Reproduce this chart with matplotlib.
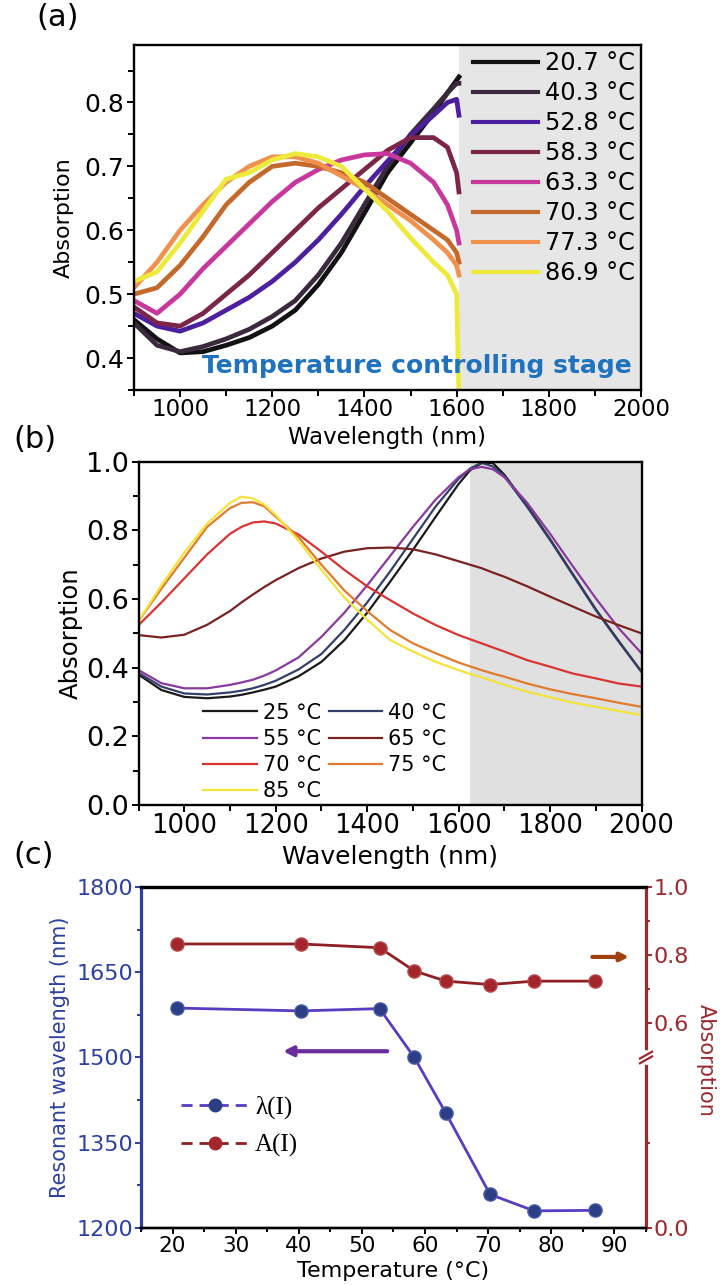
import matplotlib
matplotlib.use("Agg")
import matplotlib.pyplot as plt
from matplotlib.lines import Line2D
from matplotlib.ticker import MultipleLocator, FixedLocator

plt.rcParams['font.family'] = ['DejaVu Sans']

# (a) measured absorption spectra, one list per stage temperature
WL_A = [900, 950, 1000, 1050, 1100, 1150, 1200, 1250, 1300, 1350,
        1400, 1450, 1500, 1550, 1580, 1600, 1605]
abs_207 = [0.46, 0.43, 0.408, 0.41, 0.42, 0.432, 0.45, 0.475, 0.515, 0.565,
           0.627, 0.69, 0.737, 0.784, 0.815, 0.835, 0.84]
abs_403 = [0.455, 0.42, 0.41, 0.418, 0.43, 0.445, 0.465, 0.49, 0.53, 0.58,
           0.64, 0.70, 0.75, 0.79, 0.815, 0.83, 0.83]
abs_528 = [0.47, 0.45, 0.442, 0.455, 0.475, 0.495, 0.52, 0.55, 0.585, 0.625,
           0.668, 0.708, 0.748, 0.78, 0.80, 0.805, 0.78]
abs_583 = [0.48, 0.455, 0.45, 0.47, 0.50, 0.53, 0.565, 0.60, 0.635, 0.665,
           0.695, 0.725, 0.745, 0.745, 0.73, 0.69, 0.66]
abs_633 = [0.49, 0.47, 0.50, 0.54, 0.575, 0.61, 0.645, 0.675, 0.695, 0.71,
           0.718, 0.72, 0.705, 0.675, 0.64, 0.60, 0.58]
abs_703 = [0.50, 0.51, 0.545, 0.59, 0.64, 0.675, 0.70, 0.705, 0.70, 0.69,
           0.675, 0.65, 0.625, 0.60, 0.585, 0.565, 0.55]
abs_773 = [0.51, 0.55, 0.60, 0.64, 0.675, 0.70, 0.715, 0.715, 0.705, 0.685,
           0.665, 0.64, 0.615, 0.585, 0.565, 0.545, 0.53]
abs_869 = [0.52, 0.535, 0.58, 0.63, 0.68, 0.69, 0.71, 0.72, 0.715, 0.70,
           0.665, 0.63, 0.588, 0.55, 0.53, 0.50, 0.34]
LABELS_A = ["20.7 °C", "40.3 °C", "52.8 °C", "58.3 °C",
            "63.3 °C", "70.3 °C", "77.3 °C", "86.9 °C"]

# (b) simulated spectra
WL_B = [900, 950, 1000, 1050, 1100, 1125, 1150, 1175, 1200, 1250, 1300, 1350,
        1400, 1450, 1500, 1550, 1600, 1625, 1650, 1675, 1700, 1750, 1800,
        1850, 1900, 1950, 2000]
b_25 = [0.38, 0.335, 0.315, 0.311, 0.316, 0.321, 0.328, 0.336, 0.345, 0.375,
        0.417, 0.48, 0.56, 0.65, 0.743, 0.84, 0.935, 0.975, 0.996, 0.996,
        0.962, 0.872, 0.774, 0.672, 0.57, 0.478, 0.388]
b_40 = [0.385, 0.345, 0.325, 0.322, 0.328, 0.333, 0.34, 0.35, 0.362, 0.395,
        0.44, 0.51, 0.59, 0.68, 0.775, 0.87, 0.95, 0.98, 0.997, 0.986,
        0.958, 0.868, 0.772, 0.67, 0.568, 0.476, 0.388]
b_55 = [0.393, 0.355, 0.34, 0.34, 0.35, 0.357, 0.365, 0.377, 0.392, 0.43,
        0.49, 0.56, 0.64, 0.725, 0.81, 0.89, 0.955, 0.978, 0.985, 0.978,
        0.955, 0.88, 0.79, 0.695, 0.602, 0.515, 0.442]
b_65 = [0.495, 0.488, 0.496, 0.525, 0.565, 0.59, 0.613, 0.635, 0.655, 0.69,
        0.718, 0.738, 0.748, 0.75, 0.745, 0.73, 0.71, 0.70, 0.69, 0.677,
        0.665, 0.637, 0.607, 0.578, 0.549, 0.524, 0.50]
b_70 = [0.524, 0.59, 0.66, 0.73, 0.79, 0.81, 0.823, 0.826, 0.82, 0.788,
        0.738, 0.685, 0.637, 0.597, 0.558, 0.524, 0.495, 0.483, 0.471, 0.459,
        0.447, 0.422, 0.403, 0.383, 0.369, 0.354, 0.345]
b_75 = [0.536, 0.63, 0.72, 0.81, 0.865, 0.88, 0.882, 0.87, 0.84, 0.78,
        0.70, 0.625, 0.565, 0.51, 0.471, 0.442, 0.415, 0.404, 0.393, 0.383,
        0.374, 0.354, 0.337, 0.323, 0.311, 0.298, 0.286]
b_85 = [0.536, 0.64, 0.735, 0.82, 0.88, 0.898, 0.893, 0.875, 0.845, 0.77,
        0.685, 0.605, 0.54, 0.481, 0.447, 0.417, 0.393, 0.382, 0.372, 0.361,
        0.35, 0.33, 0.314, 0.298, 0.286, 0.274, 0.262]
LABELS_B = ["25 °C", "40 °C", "55 °C", "65 °C", "70 °C", "75 °C", "85 °C"]

# (c) resonance position and peak absorption vs temperature
temperatura = [20.7, 40.3, 52.8, 58.3, 63.3, 70.3, 77.3, 86.9]
lambda_res = [1587, 1582, 1586, 1500, 1402, 1259, 1230, 1231]
abs_res = [0.833, 0.833, 0.822, 0.754, 0.724, 0.714, 0.724, 0.724]

COLORES_A = ['#121212', '#3b2a3e', '#4b1f9e', '#7b2548',
             '#c8389c', '#c4692c', '#f0924e', '#eeea3c']
COLORES_B = ['#1a1a1a', '#33406a', '#8a3a9e', '#7a2222',
             '#d83434', '#e07b30', '#f2e43a']

AZUL = '#2b40a0'
ROJO = '#9b2a2e'


def estilo_ejes(ax, size, largo=5, pad=2):
    ax.tick_params(which='both', direction='out', width=1.4, labelsize=size, pad=pad)
    ax.tick_params(which='major', length=largo)
    ax.tick_params(which='minor', length=largo - 1)
    for s in ax.spines.values():
        s.set_linewidth(1.7)


def poner_etiquetas(ax, xlabel, ylabel, xsize, ysize, xpos, ypos, color='black'):
    ax.set_xlabel(xlabel, fontsize=xsize, va='center')
    ax.set_ylabel(ylabel, fontsize=ysize, va='center', color=color)
    ax.xaxis.set_label_coords(*xpos)
    ax.yaxis.set_label_coords(*ypos)


def panel_a(fig):
    ax = fig.add_axes([0.1853, 0.6965, 0.7013, 0.2685])
    ax.axvspan(1605, 2000, color='#e6e6e6', zorder=0, lw=0)
    series = [abs_207, abs_403, abs_528, abs_583, abs_633, abs_703, abs_773, abs_869]
    for vals, lab, col in zip(series, LABELS_A, COLORES_A):
        ax.plot(WL_A, vals, color=col, lw=3.4, label=lab, solid_joinstyle='round')
    ax.set_xlim(900, 2000)
    ax.set_ylim(0.35, 0.89)
    ax.xaxis.set_major_locator(MultipleLocator(200))
    ax.xaxis.set_minor_locator(MultipleLocator(100))
    ax.yaxis.set_major_locator(MultipleLocator(0.1))
    ax.yaxis.set_minor_locator(MultipleLocator(0.05))
    estilo_ejes(ax, 18)
    ax.tick_params(axis='x', labelsize=16.5, pad=1)
    poner_etiquetas(ax, "Wavelength (nm)", "Absorption", 16.5, 16,
                    (0.5, -0.137), (-0.138, 0.5))
    leg = ax.legend(loc='upper right', bbox_to_anchor=(1.0, 1.0), frameon=False,
                    fontsize=17.3, handlelength=2.7, handletextpad=0.3,
                    labelspacing=0.25, borderaxespad=0.1, borderpad=0.15)
    for line in leg.get_lines():
        line.set_linewidth(3)
    ax.text(0.982, 0.07, "Temperature controlling stage", transform=ax.transAxes,
            ha='right', va='center', fontsize=18, fontweight='bold',
            color='#1f72bd')


def panel_b(fig):
    ax = fig.add_axes([0.1916, 0.3735, 0.6957, 0.2672])
    ax.axvspan(1625, 2000, color='#e0e0e0', zorder=0, lw=0)
    series = [b_25, b_40, b_55, b_65, b_70, b_75, b_85]
    lineas = []
    for vals, lab, col in zip(series, LABELS_B, COLORES_B):
        ln, = ax.plot(WL_B, vals, color=col, lw=1.6, label=lab)
        lineas.append(ln)
    ax.set_xlim(900, 2000)
    ax.set_ylim(0, 1.0)
    ax.xaxis.set_major_locator(MultipleLocator(200))
    ax.xaxis.set_minor_locator(MultipleLocator(100))
    ax.yaxis.set_major_locator(MultipleLocator(0.2))
    ax.yaxis.set_minor_locator(MultipleLocator(0.1))
    ax.yaxis.set_major_formatter(plt.FormatStrFormatter('%.1f'))
    estilo_ejes(ax, 19.5)
    ax.tick_params(axis='x', labelsize=18.5, pad=1)
    poner_etiquetas(ax, "Wavelength (nm)", "Absorption", 18, 17.5,
                    (0.5, -0.152), (-0.134, 0.5))
    # column order: 25, 55, 70, 85 | 40, 65, 75
    orden = [0, 2, 4, 6, 1, 3, 5]
    ax.legend([lineas[i] for i in orden], [LABELS_B[i] for i in orden],
              loc='lower left', bbox_to_anchor=(0.10, -0.032), ncol=2,
              frameon=False, fontsize=15, handlelength=2.55, handletextpad=0.3,
              columnspacing=0.38, labelspacing=0.3, borderpad=0.2)


def panel_c(fig):
    ax = fig.add_axes([0.195, 0.0444, 0.6985, 0.2653])
    ax2 = ax.twinx()
    ax.plot(temperatura, lambda_res, color='#5a3cc2', lw=2, marker='o', ms=9.5,
            mfc='#2c3f86', mec='#4a5aa6', mew=1, zorder=3)
    ax2.plot(temperatura, abs_res, color='#8e1f24', lw=2, marker='o', ms=9.5,
             mfc='#a3262c', mec='#b84a4e', mew=1, zorder=3)
    ax.set_xlim(15, 95)
    ax.set_ylim(1200, 1800)
    ax2.set_ylim(0, 1.0)
    ax.xaxis.set_major_locator(MultipleLocator(10))
    ax.xaxis.set_minor_locator(MultipleLocator(5))
    ax.yaxis.set_major_locator(MultipleLocator(150))
    ax.yaxis.set_minor_locator(MultipleLocator(75))
    ax2.yaxis.set_major_locator(FixedLocator([0.0, 0.6, 0.8, 1.0]))
    ax2.yaxis.set_minor_locator(FixedLocator([0.25, 0.7, 0.9]))
    ax2.yaxis.set_major_formatter(plt.FormatStrFormatter('%.1f'))
    for a in (ax, ax2):
        estilo_ejes(a, 16, largo=4, pad=1.5)
    ax.tick_params(axis='x', labelsize=15.5)
    ax.tick_params(axis='y', colors=AZUL, which='both')
    ax2.tick_params(axis='y', colors=ROJO, which='both')
    ax.spines['left'].set_color(AZUL)
    ax2.spines['left'].set_visible(False)
    ax2.spines['right'].set_color(ROJO)
    ax.spines['right'].set_visible(False)
    for a in (ax, ax2):
        for lado in ('left', 'right', 'top'):
            a.spines[lado].set_linewidth(2.3)
    poner_etiquetas(ax, "Temperature (°C)", "Resonant wavelength (nm)", 16, 15,
                    (0.5, -0.126), (-0.16, 0.5), color=AZUL)
    ax2.set_ylabel("Absorption", fontsize=15, color=ROJO, rotation=270, va='center')
    ax2.yaxis.set_label_coords(1.118, 0.49)

    # axis break marks on the right spine
    ax2.plot([1.0, 1.0], [0.488, 0.512], transform=ax2.transAxes, color='white',
             lw=4, clip_on=False, zorder=5)
    for dy in (-0.007, 0.007):
        ax2.plot([0.988, 1.012], [0.49 + dy, 0.51 + dy], transform=ax2.transAxes,
                 color=ROJO, lw=1.6, clip_on=False, zorder=6)

    # arrows pointing to each axis
    ax.annotate("", xy=(37.5, 1511), xytext=(54, 1511),
                arrowprops=dict(arrowstyle='-|>', color='#6a2c9a', lw=3,
                                mutation_scale=14, shrinkA=0, shrinkB=0))
    ax2.annotate("", xy=(92.3, 0.795), xytext=(86.5, 0.795),
                 arrowprops=dict(arrowstyle='-|>', color='#a0400e', lw=3,
                                 mutation_scale=12, shrinkA=0, shrinkB=0))

    h1 = Line2D([], [], color='#5a3cc2', lw=2, ls=(0, (4, 2.5)), marker='o', ms=9,
                mfc='#2c3f86', mec='#2c3f86')
    h2 = Line2D([], [], color='#8e1f24', lw=2, ls=(0, (4, 2.5)), marker='o', ms=9,
                mfc='#a3262c', mec='#a3262c')
    ax.legend([h1, h2], ["λ(I)", "A(I)"], loc='upper left',
              bbox_to_anchor=(0.035, 0.455), frameon=False, handlelength=2.7,
              handletextpad=0.25, labelspacing=0.6,
              prop={'family': ['Liberation Serif', 'DejaVu Serif'], 'size': 18})


fig = plt.figure(figsize=(7.23, 12.85), dpi=100)
panel_a(fig)
panel_b(fig)
panel_c(fig)
fig.text(0.051, 0.986, "(a)", fontsize=22, va='center')
fig.text(0.018, 0.6576, "(b)", fontsize=22, va='center')
fig.text(0.018, 0.3346, "(c)", fontsize=22, va='center')
fig.savefig("out.png", dpi=100)
plt.close(fig)
